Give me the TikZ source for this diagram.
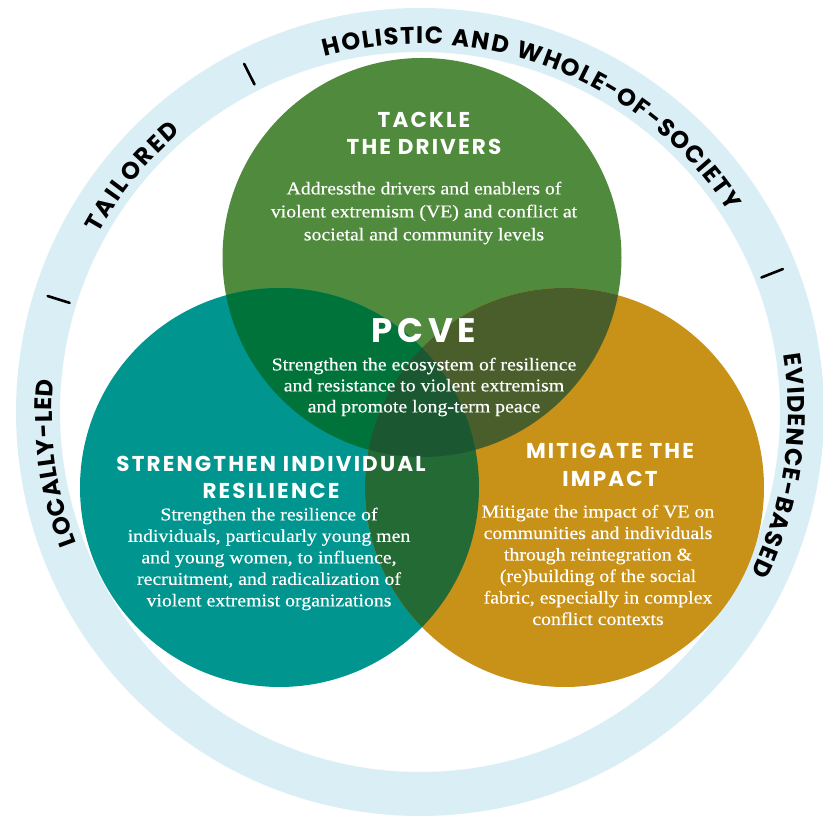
\documentclass[tikz,border=0pt]{standalone}
\usepackage{fontspec}
\usetikzlibrary{decorations.text}
\newfontfamily\headfont[LetterSpace=10]{Poppins}
\newfontfamily\pcvefont[LetterSpace=14]{Poppins}
\newfontfamily\ringfont[LetterSpace=4]{Poppins}
\newfontfamily\bodyfont[FakeStretch=1.1,FakeBold=0.4]{Liberation Serif}
\definecolor{ringblue}{RGB}{218,238,245}
\definecolor{drvgreen}{RGB}{80,138,60}
\definecolor{indteal}{RGB}{0,149,143}
\definecolor{impgold}{RGB}{200,145,24}
\definecolor{gtmix}{RGB}{0,115,58}
\definecolor{gomix}{RGB}{74,94,44}
\definecolor{tomix}{RGB}{36,106,53}
\definecolor{allmix}{RGB}{27,88,50}
\begin{document}
\begin{tikzpicture}[x=1pt,y=1pt,
  heading/.style={text=white, align=center, inner sep=0pt,
    font=\headfont\bfseries\fontsize{21.5}{27.5}\selectfont},
  body/.style={text=white, align=center, inner sep=0pt,
    font=\bodyfont\fontsize{18}{21.5}\selectfont},
  ringtext/.style={decorate, decoration={text along path, text align=fit to path,
    text={|\ringfont\bfseries\fontsize{24}{24}\selectfont|#1}}},
  divider/.style={line width=2.6pt, line cap=round}
]
\useasboundingbox (0,0) rectangle (823,821);
% centres of the outer ring and the three circles
\coordinate (hub) at (420,409);
\coordinate (cG) at (422,563.5);
\coordinate (cT) at (279.5,333.5);
\coordinate (cO) at (564.5,333.5);
\def\rad{199.5pt}

% outer ring
\fill[ringblue, even odd rule] (hub) circle (404pt) (hub) circle (360pt);

% three circles
\fill[drvgreen] (cG) circle (\rad);
\fill[indteal] (cT) circle (\rad);
\fill[impgold] (cO) circle (\rad);
% pairwise overlaps
\begin{scope}
  \clip (cG) circle (\rad);
  \fill[gtmix] (cT) circle (\rad);
  \fill[gomix] (cO) circle (\rad);
\end{scope}
\begin{scope}
  \clip (cT) circle (\rad);
  \fill[tomix] (cO) circle (\rad);
\end{scope}
% centre overlap
\begin{scope}
  \clip (cG) circle (\rad);
  \clip (cT) circle (\rad);
  \fill[allmix] (cO) circle (\rad);
\end{scope}

% ring labels, read clockwise
\path[ringtext={HOLISTIC AND WHOLE-OF-SOCIETY}]
  (hub) ++(105:368pt) arc[start angle=105, end angle=33, radius=368pt];
\path[ringtext={TAILORED}]
  (hub) ++(151:368pt) arc[start angle=151, end angle=130.5, radius=368pt];
\path[ringtext={LOCALLY-LED}]
  (hub) ++(201:368pt) arc[start angle=201, end angle=175, radius=368pt];
\path[ringtext={EVIDENCE-BASED}]
  (hub) ++(9:368pt) arc[start angle=9, end angle=-26, radius=368pt];

% separators on the ring
\draw[divider] (hub) ++(116.8:367pt) -- ++(116.8:23pt);
\draw[divider] (hub) ++(162.7:367pt) -- ++(162.7:23pt);
\draw[divider] (hub) ++(21.5:367pt) -- ++(21.5:23pt);

% texts
\node[heading] (drvhead) at (424,687.5) {TACKLE\\THE DRIVERS};
\node[body, font=\bodyfont\fontsize{18}{23}\selectfont] (drvbody) at (424,608)
  {Addressthe drivers and enablers of\\violent extremism (VE) and conflict at\\societal and community levels};

\node[text=white, inner sep=0pt, font=\pcvefont\bfseries\fontsize{34}{34}\selectfont] (pcve) at (424,490.5) {PCVE};
\node[body, font=\bodyfont\fontsize{18}{21}\selectfont] (pcvebody) at (424,434)
  {Strengthen the ecosystem of resilience\\and resistance to violent extremism\\and promote long-term peace};

\node[heading] (indhead) at (271,343.5) {STRENGTHEN INDIVIDUAL\\RESILIENCE};
\node[body] (indbody) at (269,262)
  {Strengthen the resilience of\\individuals, particularly young men\\and young women, to influence,\\recruitment, and radicalization of\\violent extremist organizations};

\node[heading] (imphead) at (610,356) {MITIGATE THE\\IMPACT};
\node[body] (impbody) at (598,256)
  {Mitigate the impact of VE on\\communities and individuals\\through reintegration \&\\(re)building of the social\\fabric, especially in complex\\conflict contexts};
\end{tikzpicture}
\end{document}
